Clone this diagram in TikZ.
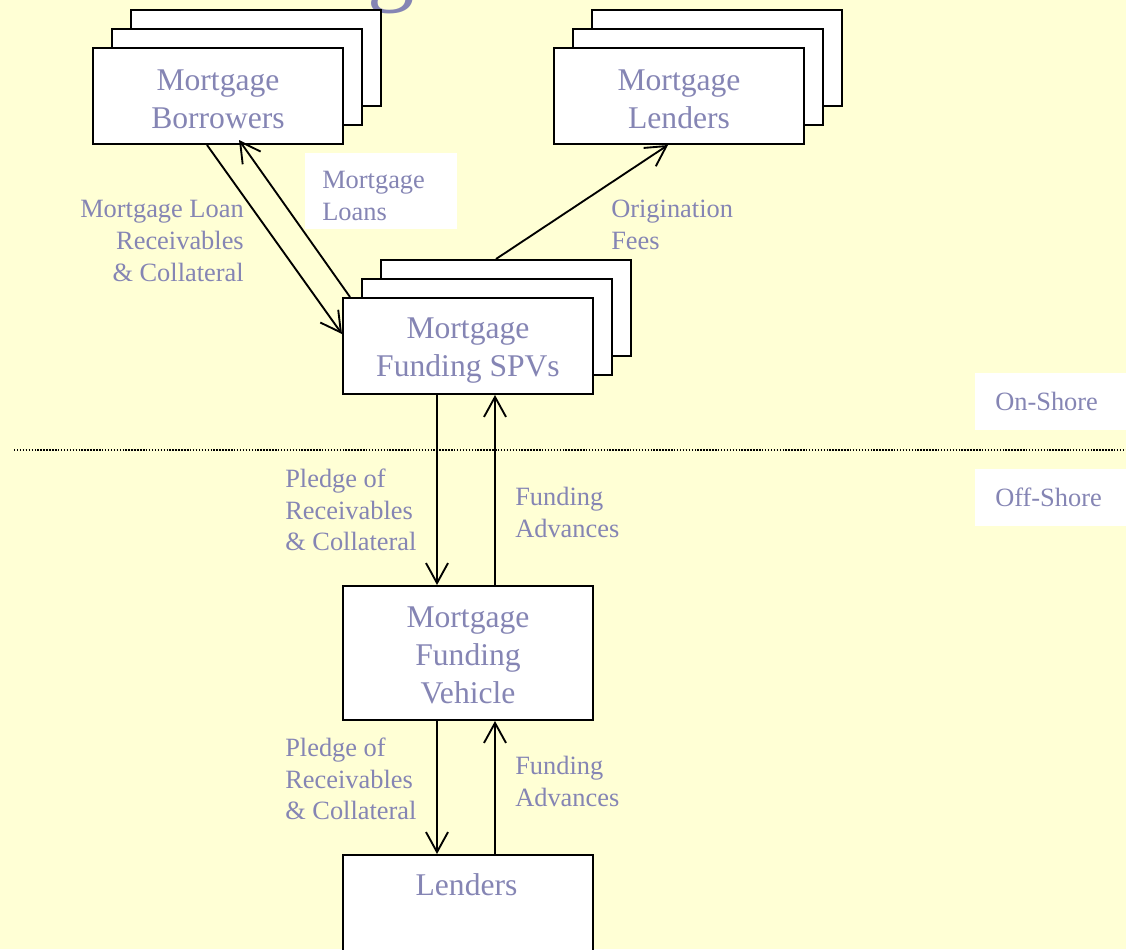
\documentclass[tikz,border=0pt]{standalone}
\usepackage{fontspec}
\setmainfont{Liberation Serif}
\usetikzlibrary{arrows.meta,calc}
\definecolor{bg}{RGB}{255,255,213}
\definecolor{txt}{RGB}{133,133,180}
\begin{document}
\begin{tikzpicture}[x=0.75pt,y=-0.75pt,
  box/.style={draw=black,line width=1.5pt,fill=white,anchor=north west,inner sep=0pt,minimum width=187.5pt,minimum height=72pt},
  boxtext/.style={text=txt,font=\fontsize{23.7}{28.5}\selectfont,align=center,inner sep=0pt},
  lbl/.style={text=txt,font=\fontsize{19.8}{23.8}\selectfont,inner sep=0pt},
  tag/.style={lbl,fill=white,align=left},
  flow/.style={draw=black,line width=1.4pt,-{Straight Barb[length=15pt,width=16.5pt]}},
  divider/.style={draw=black,line width=1.1pt,dash pattern=on 1.1pt off 1.1pt},
]
\clip (0,0) rectangle (1126,949);
\fill[bg] (0,0) rectangle (1126,949);

% partial title glyph
\node[text=txt,font=\fontsize{71}{71}\selectfont,inner sep=0pt,anchor=base west] (tg) at (367,-6) {g};

% Mortgage Borrowers stack
\node[box] (bor3) at (130,9) {};
\node[box] (bor2) at (111,28) {};
\node[box] (bor) at (92,47) {};
\node[boxtext] (bortxt) at ($(bor.center)+(0,3)$) {Mortgage\\Borrowers};

% Mortgage Lenders stack
\node[box] (mlen3) at (591,9) {};
\node[box] (mlen2) at (572,28) {};
\node[box] (mlen) at (553,47) {};
\node[boxtext] (mlentxt) at ($(mlen.center)+(0,3)$) {Mortgage\\Lenders};

% SPVs stack
\node[box] (spv3) at (380,259) {};
\node[box] (spv2) at (361,278) {};
\node[box] (spv) at (342,297) {};
\node[boxtext] (spvtxt) at ($(spv.center)+(0,5)$) {Mortgage\\Funding SPVs};

% Vehicle
\node[box,minimum height=100.5pt] (veh) at (342,585) {};
\node[boxtext] (vehtxt) at ($(veh.center)+(0,2.5)$) {Mortgage\\Funding\\Vehicle};

% Lenders
\node[box,minimum height=100.5pt] (lend) at (342,854) {};
\node[boxtext] (lendtxt) at (466.5,885) {Lenders};

% divider
\coordinate (dl) at (14,450);
\coordinate (dr) at (1126,450);
\draw[divider] (dl) -- (dr);

% connectors
\draw[flow] ($(bor.south west)+(115,0)$) -- ($(spv.north west)+(0,37)$);
\draw[flow] ($(spv.north west)+(8,0)$) -- ($(bor.south west)+(147,-5)$);
\draw[flow] ($(spv3.north west)+(116,0)$) -- ($(mlen.south west)+(115,0)$);
\draw[flow] ($(spv.south west)+(95,0)$) -- ($(veh.north west)+(95,0)$);
\draw[flow] ($(veh.north west)+(153,0)$) -- ($(spv.south west)+(153,0)$);
\draw[flow] ($(veh.south west)+(95,0)$) -- ($(lend.north west)+(95,0)$);
\draw[flow] ($(lend.north west)+(153,0)$) -- ($(veh.south west)+(153,0)$);

% labels
\node[fill=white,minimum width=114pt,minimum height=57pt,inner sep=0pt] (loansbox) at (381,191) {};
\node[lbl,align=left,anchor=west] (lblloans) at (322,196) {Mortgage\\Loans};
\node[lbl,align=right,anchor=east] (lblrec) at (244,241) {Mortgage Loan\\Receivables\\\& Collateral};
\node[lbl,align=left,anchor=west] (lblfees) at (611,225) {Origination\\Fees};
\node[tag,anchor=west,inner xsep=15pt,inner ysep=0pt,text width=86.25pt,minimum height=42.75pt] (onshore) at (975,401.5) {On-Shore};
\node[tag,anchor=west,inner xsep=15pt,inner ysep=0pt,text width=86.25pt,minimum height=42.75pt] (offshore) at (975,497.5) {Off-Shore};
\node[lbl,align=left,anchor=west] (pledge1) at (285,510) {Pledge of\\Receivables\\\& Collateral};
\node[lbl,align=left,anchor=west] (fund1) at (515,512.5) {Funding\\Advances};
\node[lbl,align=left,anchor=west] (pledge2) at (285,779) {Pledge of\\Receivables\\\& Collateral};
\node[lbl,align=left,anchor=west] (fund2) at (515,781.5) {Funding\\Advances};
\end{tikzpicture}
\end{document}
